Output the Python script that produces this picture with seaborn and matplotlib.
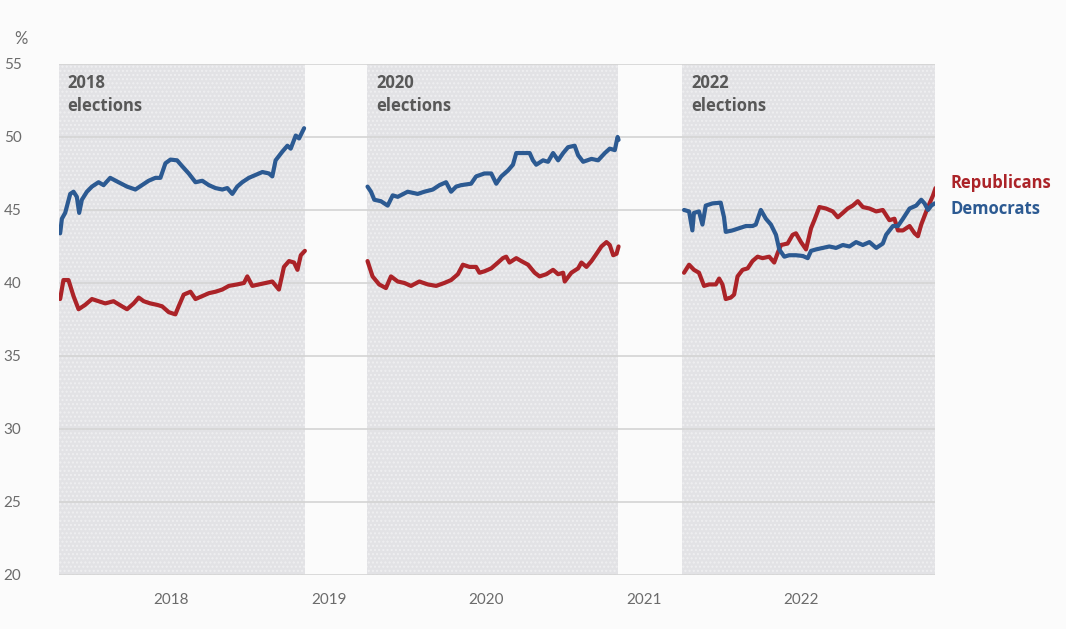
import numpy as np
import pandas as pd
import matplotlib
matplotlib.use("Agg")
import matplotlib.pyplot as plt
import seaborn as sns

# ---------------- data (decimal years, values in %) ----------------
rep_2018_t = [2017.293, 2017.314, 2017.346, 2017.378, 2017.410, 2017.452, 2017.495, 2017.537, 2017.580, 2017.632,
              2017.686, 2017.718, 2017.760, 2017.792, 2017.824, 2017.866, 2017.909, 2017.941, 2017.983, 2018.025,
              2018.046, 2018.078, 2018.121, 2018.153, 2018.196, 2018.238, 2018.280, 2018.323, 2018.365, 2018.418,
              2018.461, 2018.482, 2018.514, 2018.556, 2018.599, 2018.641, 2018.683, 2018.715, 2018.747, 2018.779,
              2018.801, 2018.822, 2018.848]
rep_2018_v = [38.9, 40.2, 40.2, 39.1, 38.2, 38.5, 38.9, 38.75, 38.6, 38.75,
              38.4, 38.2, 38.6, 39.0, 38.75, 38.6, 38.5, 38.4, 38.0, 37.85,
              38.4, 39.2, 39.4, 38.9, 39.1, 39.3, 39.4, 39.55, 39.8, 39.9,
              40.0, 40.45, 39.8, 39.9, 40.0, 40.1, 39.55, 41.1, 41.5, 41.4,
              40.9, 41.9, 42.2]
dem_2018_t = [2017.293, 2017.304, 2017.325, 2017.357, 2017.378, 2017.399, 2017.414, 2017.431, 2017.463, 2017.495,
              2017.537, 2017.569, 2017.611, 2017.664, 2017.718, 2017.771, 2017.813, 2017.855, 2017.898, 2017.930,
              2017.962, 2017.994, 2018.036, 2018.068, 2018.110, 2018.153, 2018.196, 2018.238, 2018.280, 2018.323,
              2018.355, 2018.387, 2018.418, 2018.450, 2018.492, 2018.535, 2018.578, 2018.620, 2018.641, 2018.662,
              2018.705, 2018.737, 2018.758, 2018.790, 2018.811, 2018.843]
dem_2018_v = [43.4, 44.4, 44.8, 46.1, 46.25, 45.9, 44.8, 45.7, 46.25, 46.6,
              46.9, 46.7, 47.2, 46.9, 46.6, 46.4, 46.7, 47.0, 47.2, 47.2,
              48.2, 48.45, 48.4, 48.0, 47.5, 46.9, 47.0, 46.7, 46.5, 46.4,
              46.5, 46.1, 46.6, 46.9, 47.2, 47.4, 47.6, 47.5, 47.3, 48.4,
              49.0, 49.4, 49.2, 50.1, 49.9, 50.6]

rep_2020_t = [2019.246, 2019.278, 2019.320, 2019.363, 2019.395, 2019.438, 2019.480, 2019.522, 2019.575, 2019.629,
              2019.682, 2019.734, 2019.777, 2019.820, 2019.852, 2019.894, 2019.936, 2019.957, 2019.989, 2020.032,
              2020.075, 2020.106, 2020.127, 2020.148, 2020.191, 2020.223, 2020.266, 2020.308, 2020.339, 2020.382,
              2020.425, 2020.457, 2020.489, 2020.499, 2020.541, 2020.584, 2020.605, 2020.637, 2020.669, 2020.701,
              2020.732, 2020.764, 2020.785, 2020.807, 2020.828, 2020.841]
rep_2020_v = [41.5, 40.45, 39.9, 39.65, 40.45, 40.1, 40.0, 39.8, 40.1, 39.9,
              39.8, 40.0, 40.2, 40.6, 41.25, 41.1, 41.1, 40.7, 40.8, 41.0,
              41.4, 41.7, 41.8, 41.4, 41.7, 41.5, 41.25, 40.7, 40.45, 40.6,
              40.9, 40.6, 40.7, 40.1, 40.7, 41.0, 41.4, 41.1, 41.5, 42.0,
              42.5, 42.8, 42.6, 41.9, 42.0, 42.5]
dem_2020_t = [2019.246, 2019.268, 2019.289, 2019.331, 2019.374, 2019.406, 2019.438, 2019.501, 2019.565, 2019.607,
              2019.661, 2019.703, 2019.745, 2019.777, 2019.809, 2019.841, 2019.904, 2019.936, 2019.989, 2020.032,
              2020.064, 2020.096, 2020.138, 2020.170, 2020.191, 2020.244, 2020.276, 2020.297, 2020.318, 2020.361,
              2020.393, 2020.425, 2020.457, 2020.489, 2020.520, 2020.562, 2020.584, 2020.616, 2020.669, 2020.711,
              2020.754, 2020.785, 2020.817, 2020.835, 2020.841]
dem_2020_v = [46.6, 46.25, 45.7, 45.6, 45.3, 46.0, 45.9, 46.25, 46.1, 46.25,
              46.4, 46.7, 46.9, 46.25, 46.6, 46.7, 46.8, 47.3, 47.5, 47.5,
              46.8, 47.3, 47.7, 48.1, 48.9, 48.9, 48.9, 48.4, 48.1, 48.4,
              48.3, 48.9, 48.4, 48.9, 49.3, 49.4, 48.75, 48.3, 48.5, 48.4,
              48.9, 49.2, 49.1, 50.0, 49.8]

rep_2022_t = [2021.257, 2021.289, 2021.320, 2021.352, 2021.384, 2021.416, 2021.459, 2021.480, 2021.501, 2021.522,
              2021.554, 2021.575, 2021.597, 2021.629, 2021.661, 2021.692, 2021.724, 2021.756, 2021.798, 2021.830,
              2021.852, 2021.873, 2021.915, 2021.947, 2021.968, 2022.000, 2022.032, 2022.064, 2022.085, 2022.117,
              2022.159, 2022.202, 2022.234, 2022.266, 2022.297, 2022.329, 2022.361, 2022.393, 2022.435, 2022.478,
              2022.520, 2022.562, 2022.594, 2022.616, 2022.648, 2022.690, 2022.722, 2022.743, 2022.764, 2022.796,
              2022.817, 2022.839, 2022.855]
rep_2022_v = [40.7, 41.25, 40.9, 40.7, 39.8, 39.9, 39.9, 40.3, 39.9, 38.9,
              39.0, 39.2, 40.45, 40.9, 41.0, 41.5, 41.8, 41.7, 41.8, 41.4,
              42.05, 42.6, 42.7, 43.3, 43.4, 42.8, 42.3, 43.75, 44.3, 45.2,
              45.1, 44.9, 44.5, 44.8, 45.1, 45.3, 45.6, 45.2, 45.1, 44.9,
              45.0, 44.3, 44.4, 43.6, 43.6, 43.9, 43.4, 43.2, 44.0, 44.9,
              45.45, 46.0, 46.5]
dem_2022_t = [2021.257, 2021.289, 2021.310, 2021.320, 2021.352, 2021.374, 2021.395, 2021.438, 2021.490, 2021.511,
              2021.522, 2021.565, 2021.607, 2021.650, 2021.692, 2021.713, 2021.745, 2021.777, 2021.809, 2021.841,
              2021.862, 2021.894, 2021.925, 2021.968, 2022.011, 2022.043, 2022.064, 2022.096, 2022.138, 2022.180,
              2022.223, 2022.266, 2022.308, 2022.350, 2022.393, 2022.435, 2022.478, 2022.520, 2022.541, 2022.584,
              2022.616, 2022.648, 2022.690, 2022.732, 2022.764, 2022.785, 2022.807, 2022.828, 2022.849]
dem_2022_v = [45.0, 44.9, 43.6, 44.8, 44.9, 44.0, 45.3, 45.45, 45.5, 44.5,
              43.5, 43.6, 43.75, 43.9, 43.9, 44.0, 45.0, 44.4, 44.0, 43.3,
              42.3, 41.8, 41.9, 41.9, 41.85, 41.7, 42.2, 42.3, 42.4, 42.5,
              42.4, 42.6, 42.5, 42.8, 42.6, 42.8, 42.4, 42.7, 43.3, 43.9,
              43.9, 44.4, 45.1, 45.3, 45.7, 45.45, 45.0, 45.3, 45.45]

cycles = ["2018", "2020", "2022"]
cycle_spans = [("2017-04-15", "2018-11-06"), ("2019-04-01", "2020-11-03"), ("2021-04-01", "2022-11-08")]
cycle_labels = ["2018\nelections", "2020\nelections", "2022\nelections"]
parties = ["Republicans", "Democrats"]
party_colors = {"Republicans": "#ab2328", "Democrats": "#2c5a92"}
year_ticks = ["2018", "2019", "2020", "2021", "2022"]
y_ticks = [20, 25, 30, 35, 40, 45, 50, 55]


def dec_to_date(arr):
    arr = np.asarray(arr, dtype=float)
    base = pd.Timestamp("2018-01-01")
    return base + pd.to_timedelta((arr - 2018.0) * 365.25, unit="D")


series = {
    ("Republicans", "2018"): (rep_2018_t, rep_2018_v),
    ("Democrats", "2018"): (dem_2018_t, dem_2018_v),
    ("Republicans", "2020"): (rep_2020_t, rep_2020_v),
    ("Democrats", "2020"): (dem_2020_t, dem_2020_v),
    ("Republicans", "2022"): (rep_2022_t, rep_2022_v),
    ("Democrats", "2022"): (dem_2022_t, dem_2022_v),
}
frames = []
for (party, cyc), (t, v) in series.items():
    frames.append(pd.DataFrame({"date": dec_to_date(t), "value": v,
                                "party": party, "cycle": cyc}))
df = pd.concat(frames, ignore_index=True)
df["unit"] = df["party"] + df["cycle"]

# ---------------- figure ----------------
sns.set_theme(style="white")
plt.rcParams["font.family"] = ["Lato", "DejaVu Sans"]
LABEL_FONT = ["Open Sans", "DejaVu Sans"]

fig = plt.figure(figsize=(10.66, 6.29), dpi=100, facecolor="#fbfbfb")
ax = fig.add_axes([0.0553, 0.0859, 0.8218, 0.8124])
ax.set_facecolor("#fbfbfb")

xmin = pd.Timestamp("2017-04-15")
xmax = pd.Timestamp("2022-11-08")

for (s, e) in cycle_spans:
    ax.axvspan(pd.Timestamp(s), pd.Timestamp(e), facecolor="#e2e2e5",
               edgecolor="#efeff1", hatch="....", linewidth=0, zorder=0)

for yv in y_ticks:
    ax.axhline(yv, color="#d4d4d4", linewidth=1.2, zorder=1)

sns.lineplot(data=df, x="date", y="value", hue="party", units="unit",
             estimator=None, palette=party_colors, legend=False,
             linewidth=3.0, ax=ax, zorder=3)

ax.set_xlim(xmin, xmax)
ax.set_ylim(20, 55)
ax.set_yticks(y_ticks)
ax.set_yticklabels([str(v) for v in y_ticks])
ax.set_xticks([pd.Timestamp(f"{y}-01-01") for y in year_ticks])
ax.set_xticklabels(year_ticks)
ax.set_xlabel("")
ax.set_ylabel("")
for sp in ax.spines.values():
    sp.set_visible(False)

ax.tick_params(axis="y", length=0, pad=27, labelsize=11, labelcolor="#6b6b6b")
ax.tick_params(axis="x", length=7, width=1, color="#d0d0d0", pad=6,
               labelsize=11, labelcolor="#6b6b6b", direction="out")

# cycle labels
for (s, e), lab in zip(cycle_spans, cycle_labels):
    ax.text(pd.Timestamp(s) + pd.Timedelta(days=20), 54.3, lab, ha="left", va="top",
            fontsize=12, fontweight="bold", family=LABEL_FONT, color="#585858",
            linespacing=1.35, zorder=4)

# "%" unit
fig.text(14 / 1066, 1 - 39 / 629, "%", ha="left", va="center", fontsize=12, color="#6b6b6b")

# party labels at right
fig.text(951 / 1066, 1 - 183 / 629, "Republicans", ha="left", va="center",
         fontsize=12, fontweight="bold", family=LABEL_FONT, color=party_colors["Republicans"])
fig.text(951 / 1066, 1 - 209 / 629, "Democrats", ha="left", va="center",
         fontsize=12, fontweight="bold", family=LABEL_FONT, color=party_colors["Democrats"])

fig.savefig("out.png", dpi=100, facecolor=fig.get_facecolor())
